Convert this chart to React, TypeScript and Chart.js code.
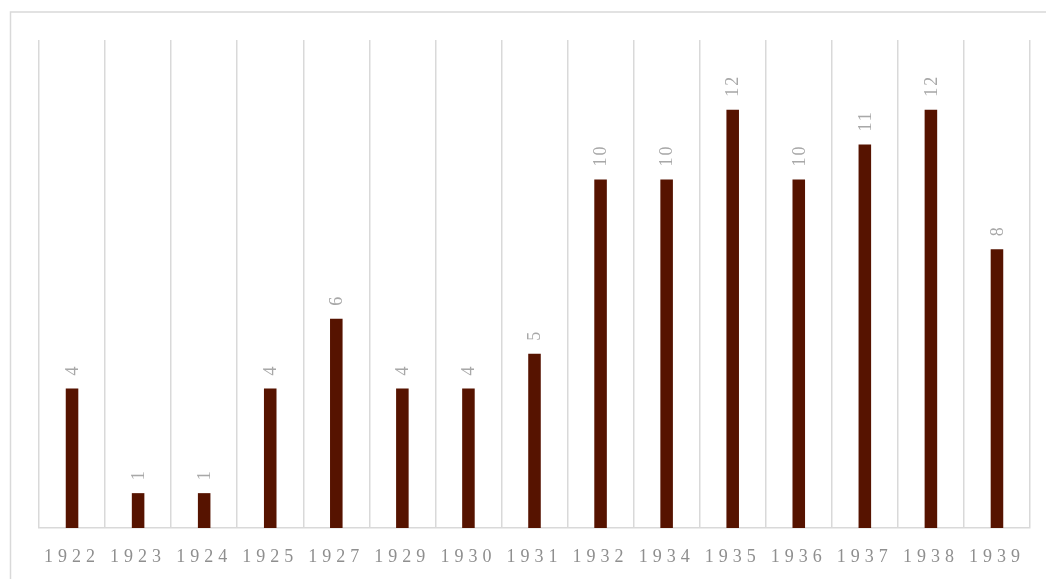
import React, { useEffect, useRef } from "react";
import { Chart, registerables } from "chart.js";

Chart.register(...registerables);

const categories: string[] = ["1922", "1923", "1924", "1925", "1927", "1929", "1930", "1931", "1932", "1934", "1935", "1936", "1937", "1938", "1939"];
const values: number[] = [4, 1, 1, 4, 6, 4, 4, 5, 10, 10, 12, 10, 11, 12, 8];

const BAR_COLOR = "#561300";
const GRID_COLOR = "#d9d9d9";
const TICK_COLOR = "#8f8f8f";
const LABEL_COLOR = "#a8a8a8";
const FONT_FAMILY = "'Liberation Serif', 'DejaVu Serif', serif";

const framePlugin = {
  id: "frame",
  beforeDraw(chart: any) {
    const ctx = chart.ctx;
    ctx.save();
    ctx.strokeStyle = GRID_COLOR;
    ctx.lineWidth = 1.5;
    ctx.beginPath();
    ctx.moveTo(10.5, chart.height + 5);
    ctx.lineTo(10.5, 12);
    ctx.lineTo(chart.width + 5, 12);
    ctx.stroke();
    ctx.restore();
    (ctx as any).letterSpacing = "5px";
  },
  beforeDatasetsDraw(chart: any) {
    (chart.ctx as any).letterSpacing = "0px";
  },
};

const valueLabelPlugin = {
  id: "valueLabels",
  afterDatasetsDraw(chart: any) {
    const ctx = chart.ctx;
    const meta = chart.getDatasetMeta(0);
    ctx.save();
    (ctx as any).letterSpacing = "2px";
    ctx.fillStyle = LABEL_COLOR;
    ctx.font = `18px ${FONT_FAMILY}`;
    ctx.textAlign = "left";
    ctx.textBaseline = "middle";
    meta.data.forEach((bar: any, i: number) => {
      ctx.save();
      ctx.translate(bar.x + 1, bar.y - 13);
      ctx.rotate(-Math.PI / 2);
      ctx.fillText(String(values[i]), 0, 0);
      ctx.restore();
    });
    ctx.restore();
  },
};

export default function App() {
  const canvasRef = useRef<HTMLCanvasElement | null>(null);

  useEffect(() => {
    document.body.style.margin = "0";
    document.body.style.overflow = "hidden";
    const canvas = canvasRef.current;
    if (!canvas) return;
    const chart = new Chart(canvas, {
      type: "bar",
      data: {
        labels: categories,
        datasets: [
          {
            data: values,
            backgroundColor: BAR_COLOR,
            borderWidth: 0,
            categoryPercentage: 1,
            barPercentage: 0.19,
          },
        ],
      },
      options: {
        animation: false,
        responsive: false,
        devicePixelRatio: 1,
        layout: { padding: { left: 39, right: 16, top: 40, bottom: 14.4 } },
        plugins: {
          legend: { display: false },
          tooltip: { enabled: false },
        },
        scales: {
          x: {
            grid: {
              display: true,
              offset: true,
              color: GRID_COLOR,
              lineWidth: 1.5,
              drawTicks: false,
            },
            border: { display: true, color: GRID_COLOR, width: 1.5 },
            ticks: {
              color: TICK_COLOR,
              font: { family: FONT_FAMILY, size: 18 },
              padding: 18,
              maxRotation: 0,
              autoSkip: false,
            },
          },
          y: {
            display: false,
            min: 0,
            max: 14,
          },
        },
      },
      plugins: [framePlugin, valueLabelPlugin],
    });
    return () => chart.destroy();
  }, []);

  return (
    <div style={{ width: 1046, height: 579, position: "relative", background: "#ffffff", overflow: "hidden" }}>
      <canvas ref={canvasRef} width={1046} height={600} style={{ display: "block" }} />
    </div>
  );
}
